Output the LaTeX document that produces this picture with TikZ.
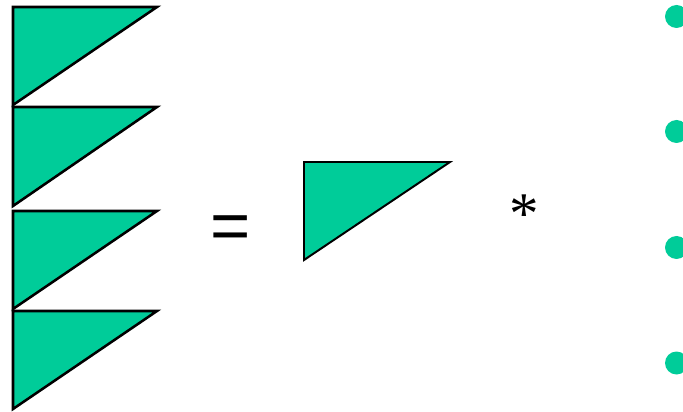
\documentclass[tikz,border=0pt]{standalone}
\usepackage{fontspec}
\setsansfont{Liberation Sans}
\setmainfont{Liberation Serif}
\usetikzlibrary{positioning}
\definecolor{trigreen}{RGB}{0,204,153}
\tikzset{
  tri/.style={draw=black,fill=trigreen,line width=1.8pt,line join=miter},
  bigsym/.style={font=\sffamily\fontsize{49}{59}\selectfont,inner sep=0pt,anchor=base},
  starsym/.style={font=\rmfamily\fontsize{42}{50}\selectfont,inner sep=0pt,anchor=base},
  bullet/.style={fill=trigreen,draw=none},
}

\begin{document}
\begin{tikzpicture}[x=0.025cm,y=-0.025cm]
  \useasboundingbox (0,0) rectangle (683,412);
  \clip (0,0) rectangle (683,412);
  \fill[white] (0,0) rectangle (683,412);
  % stack of triangles
  \draw[tri] (13,7) -- (157,7) -- (13,105) -- cycle;
  \draw[tri] (13,107) -- (157,107) -- (13,206) -- cycle;
  \draw[tri] (13,211) -- (157,211) -- (13,309) -- cycle;
  \draw[tri] (13,311) -- (157,311) -- (13,409) -- cycle;
  % equals, single triangle, times
  \node[bigsym] (eq) at (230.5,249) {=};
  \draw[tri,line width=1.4pt] (304,162) -- (450,162) -- (304,260) -- cycle;
  \node[starsym] (star) at (524.5,233.5) {*};
  % bullets on the right edge
  \fill[bullet] (676.5,16.5) circle (11.5);
  \fill[bullet] (676.5,131.5) circle (11.5);
  \fill[bullet] (676.5,247.5) circle (11.5);
  \fill[bullet] (676.5,363) circle (11.5);
\end{tikzpicture}
\end{document}
